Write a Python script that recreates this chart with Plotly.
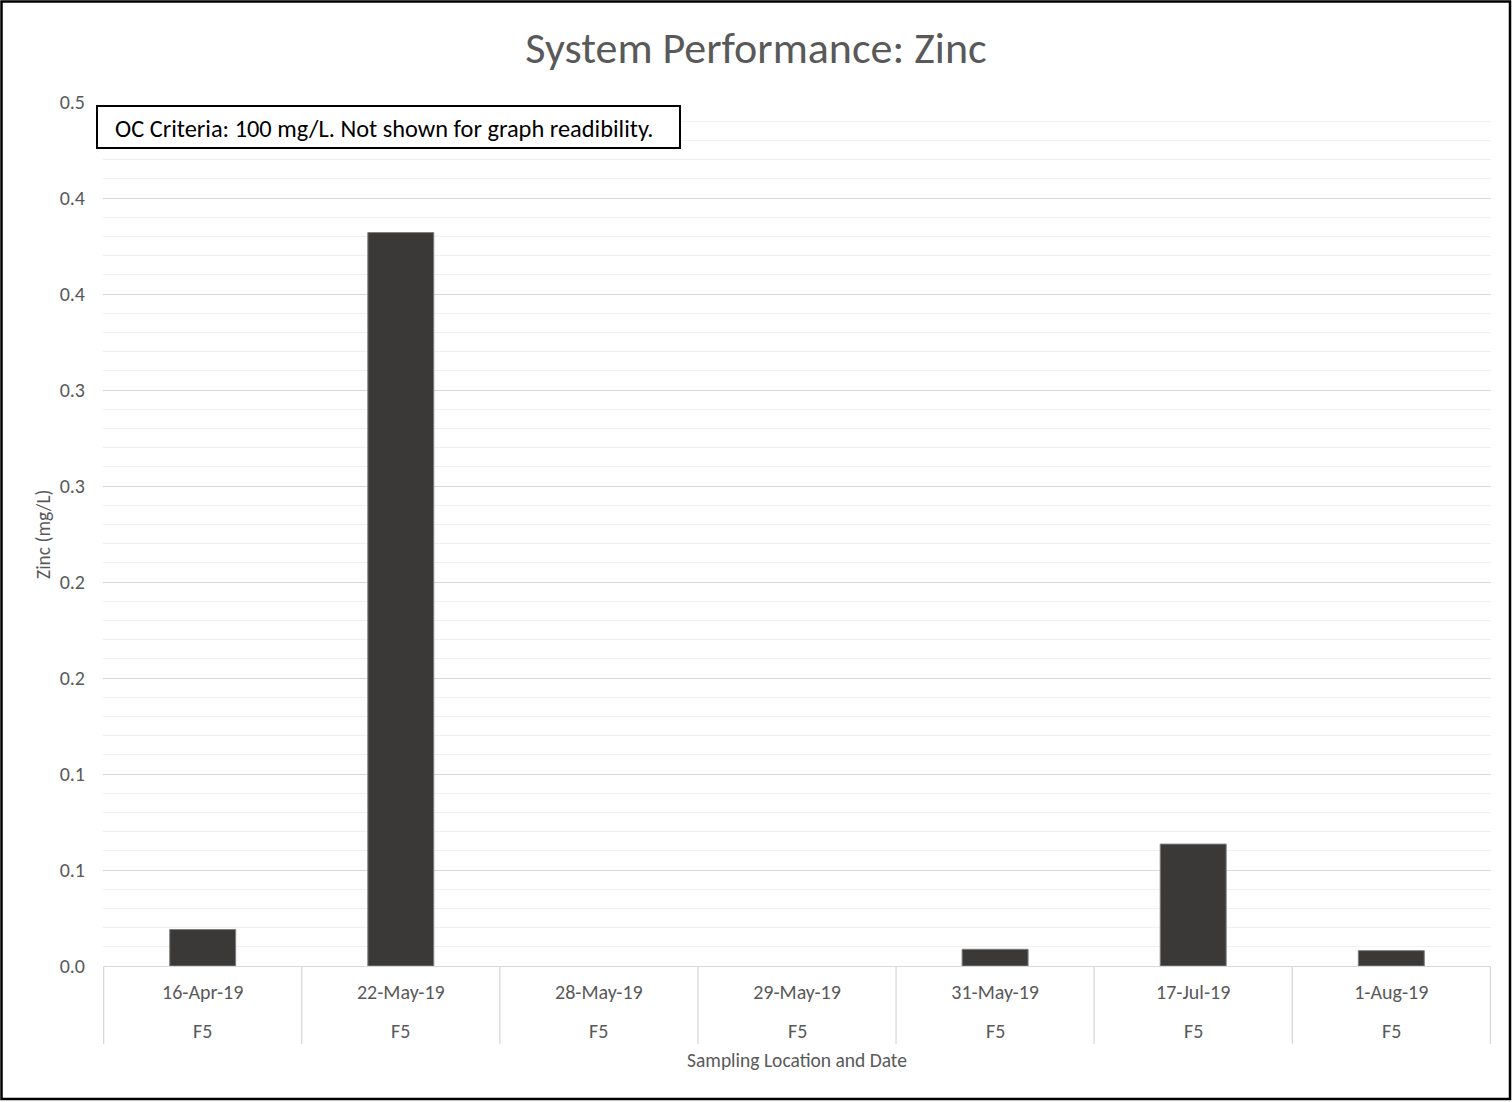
import plotly.graph_objects as go

# Sampling events (location F5) and zinc concentrations in mg/L
dates = ["16-Apr-19", "22-May-19", "28-May-19", "29-May-19", "31-May-19", "17-Jul-19", "1-Aug-19"]
locations = ["F5", "F5", "F5", "F5", "F5", "F5", "F5"]
zinc = [0.019, 0.382, 0.0, 0.0, 0.0087, 0.0635, 0.008]

# Y axis ticks every 0.05 with one-decimal labels
y_tickvals = [0.0, 0.05, 0.10, 0.15, 0.20, 0.25, 0.30, 0.35, 0.40, 0.45]
y_ticktext = ["0.0", "0.1", "0.1", "0.2", "0.2", "0.3", "0.3", "0.4", "0.4", "0.5"]

W, H = 1512, 1102
ML, MR, MT, MB = 103, 21, 102, 136
PW, PH = W - ML - MR, H - MT - MB

FONT = "Carlito, Calibri, Lato, sans-serif"
GRAY = "#595959"


def px_x(px):
    return (px - ML) / PW


def px_y(py):
    return (H - MB - py) / PH


fig = go.Figure()
fig.add_trace(go.Bar(
    x=dates,
    y=zinc,
    marker=dict(color="#3a3938",
                line=dict(color="#7f7f7f", width=[1 if v > 0 else 0 for v in zinc])),
    showlegend=False,
))

shapes = []
# category separators below the axis
for i in range(len(dates) + 1):
    shapes.append(dict(type="line", xref="x", yref="paper",
                       x0=i - 0.5, x1=i - 0.5, y0=0, y1=px_y(1044),
                       line=dict(color="#d9d9d9", width=1.3)))
# criteria note box
shapes.append(dict(type="rect", xref="paper", yref="paper",
                   x0=px_x(97), x1=px_x(680), y0=px_y(148), y1=px_y(106),
                   line=dict(color="black", width=2), fillcolor="white", layer="above"))
# outer chart frame
shapes.append(dict(type="rect", xref="paper", yref="paper",
                   x0=px_x(1.5), x1=px_x(1510), y0=px_y(1099), y1=px_y(1.5),
                   line=dict(color="black", width=2.5)))

annotations = []
for i, loc in enumerate(locations):
    annotations.append(dict(x=i, y=px_y(1031), xref="x", yref="paper", text=loc,
                            showarrow=False, font=dict(family=FONT, size=20, color=GRAY),
                            xanchor="center", yanchor="middle"))
annotations.append(dict(x=px_x(113), y=px_y(129), xref="paper", yref="paper",
                        text="OC Criteria: 100 mg/L. Not shown for graph readibility.",
                        showarrow=False, font=dict(family=FONT, size=24.4, color="black"),
                        xanchor="left", yanchor="middle"))
annotations.append(dict(x=px_x(797), y=px_y(1060), xref="paper", yref="paper",
                        text="Sampling Location and Date", showarrow=False,
                        font=dict(family=FONT, size=19.5, color=GRAY),
                        xanchor="center", yanchor="middle"))
annotations.append(dict(x=px_x(43), y=0.5, xref="paper", yref="paper",
                        text="Zinc (mg/L)", showarrow=False, textangle=-90,
                        font=dict(family=FONT, size=19.5, color=GRAY),
                        xanchor="center", yanchor="middle"))

fig.update_layout(
    width=W, height=H,
    margin=dict(l=ML, r=MR, t=MT, b=MB),
    paper_bgcolor="white", plot_bgcolor="white",
    bargap=0.667,
    title=dict(text="System Performance: Zinc", x=0.5, xref="container",
               y=1 - 48 / H, yref="container", xanchor="center", yanchor="middle",
               font=dict(family=FONT, size=44, color=GRAY, weight=300)),
    font=dict(family=FONT, color=GRAY),
    shapes=shapes,
    annotations=annotations,
)
fig.update_xaxes(
    type="category",
    showgrid=False, zeroline=False,
    showline=True, linecolor="#d9d9d9", linewidth=1.3,
    ticks="", ticklabelstandoff=8,
    tickfont=dict(family=FONT, size=20, color=GRAY),
)
fig.update_yaxes(
    range=[0, 0.45],
    tickmode="array", tickvals=y_tickvals, ticktext=y_ticktext,
    showgrid=True, gridcolor="#d9d9d9", gridwidth=1.3,
    zeroline=False, showline=False, ticks="",
    ticklabelstandoff=17,
    tickfont=dict(family=FONT, size=20, color=GRAY),
    minor=dict(tickmode="linear", tick0=0, dtick=0.01, showgrid=True,
               gridcolor="#f0f0f0", gridwidth=1.3),
)

fig.write_html("out.html")
